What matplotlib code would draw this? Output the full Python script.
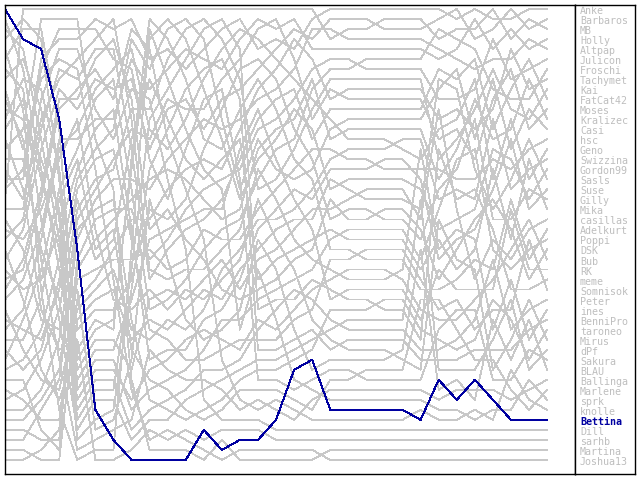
import matplotlib
matplotlib.use("Agg")
import matplotlib.pyplot as plt

# players in order of the final standings (legend order)
names = ["Anke", "Barbaros", "MB", "Holly", "Altpap", "Julicon", "Froschi", "Tachymet",
         "Kai", "FatCat42", "Moses", "Kralizec", "Casi", "hsc", "Geno", "Swizzina",
         "Gordon99", "Sasls", "Suse", "Gilly", "Mika", "casillas", "Adelkurt", "Poppi",
         "DSK", "Bub", "RK", "meme", "Somnisok", "Peter", "ines", "BenniPro",
         "taroneo", "Mirus", "dPf", "Sakura", "BLAU", "Ballinga", "Marlene", "sprk",
         "knolle", "Bettina", "Dill", "sarhb", "Martina", "Joshua13"]
highlight = "Bettina"

# standings per round: player index (into names) from rank 1 downwards
standings = [
    [41,26,31,23,39,16,34,27,45,37,21,19,25,43,44,29,30,35,0,2,42,36,33,9,22,1,18,40,24,3,15,28,14,38,20,6,12,17,13,8,10,32,11,4,7,5],
    [2,23,16,41,31,27,26,19,34,25,39,21,44,37,45,29,0,35,43,30,42,9,1,33,36,24,40,3,18,22,14,6,28,38,15,12,20,17,8,13,10,32,11,4,7,5],
    [2,44,16,23,41,0,35,45,19,42,27,30,9,31,1,21,26,25,24,40,33,34,3,14,29,37,6,18,39,38,43,36,12,28,20,8,22,15,10,32,4,13,17,11,5,7],
    [2,44,35,0,42,45,9,30,1,24,40,41,16,3,14,33,19,23,6,38,21,27,18,31,25,12,26,20,28,29,8,34,36,10,43,37,32,4,15,22,39,13,5,11,17,7],
    [2,44,35,0,42,30,45,9,40,24,1,33,14,3,6,38,18,12,28,20,8,10,32,4,41,5,11,13,36,7,15,17,19,43,22,16,21,26,23,25,29,27,34,31,37,39],
    [2,0,35,30,9,24,40,1,14,6,42,3,18,44,12,28,45,8,10,4,32,5,33,11,38,20,13,7,15,17,19,22,16,21,26,23,25,29,27,34,41,31,36,37,39,43],
    [2,30,0,24,9,35,14,6,1,40,18,3,12,42,28,10,8,4,44,32,5,11,38,20,7,13,15,45,17,33,19,16,22,21,26,23,25,29,27,34,31,36,37,41,39,43],
    [2,0,40,12,14,3,35,1,42,24,8,30,10,20,9,22,16,4,6,11,5,7,18,28,39,13,27,19,31,26,33,32,15,17,38,36,21,44,45,25,23,37,29,34,43,41],
    [2,22,39,16,40,0,12,20,3,42,8,27,14,10,1,35,31,11,4,36,19,7,24,26,13,5,30,9,33,21,6,17,28,15,37,18,25,38,23,32,29,34,43,45,44,41],
    [2,16,12,22,0,8,3,39,27,10,1,20,31,40,14,4,11,42,7,35,24,19,26,5,9,36,13,30,21,6,33,15,17,28,18,25,37,23,38,29,32,34,45,43,44,41],
    [2,12,8,16,3,27,0,22,31,1,10,14,39,4,35,20,7,11,40,19,5,26,9,24,42,13,30,6,33,21,17,36,15,25,18,28,23,37,29,34,38,32,43,45,44,41],
    [2,8,27,12,0,3,31,14,16,35,10,4,1,22,19,7,39,20,5,11,26,9,13,40,6,24,30,21,17,33,15,18,25,36,23,28,29,37,34,42,32,38,41,43,45,44],
    [2,27,0,8,14,31,3,10,35,1,19,12,4,16,22,20,7,5,39,9,26,11,6,13,30,21,15,33,24,17,18,23,36,25,28,40,29,34,37,32,38,42,43,44,41,45],
    [2,0,14,3,27,10,19,8,1,31,22,4,7,20,26,9,5,35,12,16,11,6,30,13,15,33,17,18,21,24,36,23,39,28,25,29,34,32,38,40,37,42,43,41,45,44],
    [2,3,10,14,0,19,1,22,7,4,26,9,5,12,11,16,30,6,8,33,13,15,18,36,17,21,39,20,24,23,27,25,29,28,31,34,32,35,38,37,40,42,43,41,45,44],
    [2,10,3,0,1,14,7,19,4,9,22,5,11,16,6,26,12,8,13,30,18,15,17,33,21,20,36,24,23,27,29,39,25,28,31,34,32,35,38,40,37,41,42,43,45,44],
    [2,3,1,7,0,10,4,14,9,5,16,11,19,6,8,22,13,12,18,26,15,17,21,30,20,24,33,23,29,27,25,28,36,31,34,32,41,39,35,38,40,37,42,43,45,44],
    [2,0,4,1,3,7,5,11,6,14,8,10,16,9,13,19,12,22,15,18,21,17,26,20,24,30,23,27,25,29,28,33,31,34,32,41,36,35,39,37,38,40,42,43,45,44],
    [0,1,4,2,3,5,6,8,10,7,9,14,12,11,13,15,18,17,16,24,21,19,20,23,22,28,30,25,27,26,32,29,34,33,31,36,35,38,37,39,41,40,42,43,44,45],
    [0,1,2,4,3,5,6,8,7,10,9,12,11,14,15,13,18,16,17,21,19,24,23,20,22,28,25,30,26,27,32,34,29,31,33,36,35,38,37,39,41,40,42,43,44,45],
    [0,1,2,4,3,6,5,8,7,10,9,12,11,14,15,13,18,16,21,17,19,24,23,20,28,22,25,30,26,27,32,34,29,31,33,36,38,35,37,39,41,40,42,43,44,45],
    [0,2,1,4,3,6,5,8,7,10,9,12,11,14,15,18,13,16,21,17,24,19,23,20,28,22,25,30,26,32,27,34,29,31,33,36,38,35,37,39,41,40,42,43,44,45],
    [0,2,1,4,3,6,5,8,7,10,9,12,11,15,14,18,13,16,21,17,24,19,23,20,28,22,30,25,26,32,27,34,29,31,36,33,38,35,37,39,41,40,42,43,44,45],
    [0,2,1,4,3,6,5,8,7,10,9,12,11,15,30,14,13,18,16,34,17,21,24,19,36,23,20,28,22,38,25,26,32,27,29,31,33,35,37,39,40,41,42,43,44,45],
    [0,1,6,2,4,3,9,17,12,5,21,7,14,10,27,8,13,11,19,15,23,33,16,20,30,18,26,24,22,38,28,25,35,32,29,31,34,41,36,37,39,40,42,43,44,45],
    [1,0,2,6,3,4,12,9,17,5,7,14,10,8,11,23,19,13,15,27,21,16,30,18,24,33,20,22,26,28,35,25,38,29,32,31,34,36,37,41,39,40,42,43,44,45],
    [0,3,2,1,6,9,4,14,5,11,8,19,7,12,23,10,17,13,27,15,16,24,18,30,20,22,33,21,26,25,35,29,28,32,31,38,34,41,37,36,40,39,42,43,44,45],
    [2,0,1,5,3,4,8,12,6,10,7,15,9,11,16,13,20,14,18,24,17,19,27,21,23,29,22,25,26,32,28,36,30,34,31,38,33,35,37,41,39,40,42,43,44,45],
    [1,0,3,2,7,4,10,5,9,6,8,14,11,18,12,16,13,17,15,22,26,19,24,20,25,21,23,30,27,34,28,32,29,33,31,36,40,35,38,37,39,41,42,43,44,45],
    [0,2,1,4,3,9,5,11,7,6,12,8,10,17,13,20,15,14,19,16,18,25,21,28,23,22,26,24,27,33,29,36,31,30,35,32,34,39,37,40,38,41,42,43,44,45],
    [0,1,2,3,4,5,6,7,8,9,10,11,12,13,14,15,16,17,18,19,20,21,22,23,24,25,26,27,28,29,30,31,32,33,34,35,36,37,38,39,40,41,42,43,44,45],
]

rounds = list(range(len(standings)))
n = len(names)

# rank of every player in every round
ranks = {}
for p in range(n):
    ranks[p] = [st.index(p) + 1 for st in standings]

grey = "#c8c8c8"
blue = "#0000a0"

fig = plt.figure(figsize=(6.4, 4.8), dpi=100)
W, H = 640.0, 480.0
ax = fig.add_axes([5 / W, 1 - 474 / H, 570 / W, 469 / H])
lg = fig.add_axes([575 / W, 1 - 474 / H, 60 / W, 469 / H])

step = 10.02
ymin = 1 - 4 / step
ymax = 1 + 465 / step
xmax = 570 / 18.07

hi = names.index(highlight)
for p in range(n):
    if p == hi:
        continue
    ax.plot(rounds, ranks[p], color=grey, lw=0.6, antialiased=False)
ax.plot(rounds, ranks[hi], color=blue, lw=0.7, antialiased=False)

ax.set_xlim(0, xmax)
ax.set_ylim(ymax, ymin)
ax.set_xticks([])
ax.set_yticks([])

lg.set_xlim(0, 1)
lg.set_ylim(ymax, ymin)
lg.set_xticks([])
lg.set_yticks([])
for i, nm in enumerate(names):
    if nm == highlight:
        lg.text(5 / 60, i + 1.2, nm, color=blue, fontsize=7.2, family="DejaVu Sans Mono",
                fontweight="bold", va="center", ha="left")
    else:
        lg.text(5 / 60, i + 1.2, nm, color="#bebebe", fontsize=7.2, family="DejaVu Sans Mono",
                va="center", ha="left")

for a in (ax, lg):
    for s in a.spines.values():
        s.set_linewidth(1.0)
        s.set_color("black")

fig.savefig("out.png", dpi=100)
